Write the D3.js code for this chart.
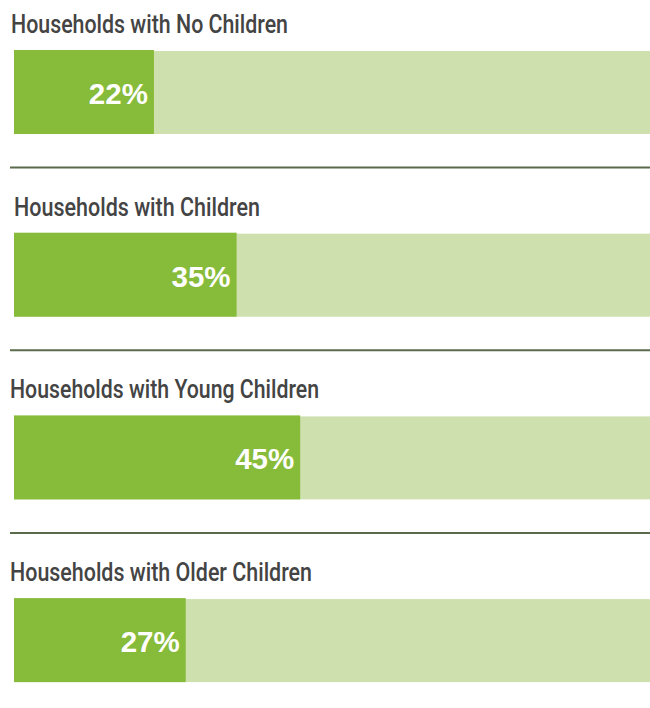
<!DOCTYPE html>
<html>
<head>
<meta charset="utf-8">
<script src="https://cdn.jsdelivr.net/npm/d3@7"></script>
<style>
  html, body { margin: 0; padding: 0; background: #ffffff; }
  svg { display: block; }
</style>
</head>
<body>
<div id="chart"></div>
<script>
// Share of households by group
const categories = [
  "Households with No Children",
  "Households with Children",
  "Households with Young Children",
  "Households with Older Children"
];
const values = [22, 35, 45, 27];
const valueLabels = ["22%", "35%", "45%", "27%"];

const width = 650, height = 708;
const panelStep = 182.7;
const barLeft = 14, barRight = 650;
const barTopOffset = 50, barHeight = 84;

// title placement (left edge and set width for the condensed look)
const titleXs = [11, 14, 10, 10];
const titleWidths = [277, 246, 309, 302];

const svg = d3.select("#chart").append("svg")
  .attr("width", width)
  .attr("height", height);

const x = d3.scaleLinear().domain([0, 100]).range([barLeft, barRight]);
const panelY = d3.scaleLinear().domain([0, 1]).range([0, panelStep]);

const panels = svg.selectAll("g.panel")
  .data(categories.map((c, i) => ({ name: c, value: values[i], label: valueLabels[i], i })))
  .join("g")
  .attr("class", "panel")
  .attr("transform", d => `translate(0,${panelY(d.i)})`);

panels.append("text")
  .attr("x", d => titleXs[d.i])
  .attr("y", 33)
  .attr("fill", "#444444")
  .attr("textLength", d => titleWidths[d.i])
  .attr("lengthAdjust", "spacingAndGlyphs")
  .style("font-family", "Roboto, 'Liberation Sans', sans-serif")
  .style("font-weight", "500")
  .style("font-size", "25px")
  .text(d => d.name);

// full-width track
panels.append("rect")
  .attr("x", x(0))
  .attr("y", barTopOffset + 1)
  .attr("width", x(100) - x(0))
  .attr("height", barHeight - 1)
  .attr("fill", "#cde0ae");

// value bar
panels.append("rect")
  .attr("x", x(0))
  .attr("y", barTopOffset)
  .attr("width", d => x(d.value) - x(0))
  .attr("height", barHeight)
  .attr("fill", "#87bb3a");

panels.append("text")
  .attr("x", d => x(d.value) - 6)
  .attr("y", barTopOffset + 54)
  .attr("text-anchor", "end")
  .attr("fill", "#ffffff")
  .style("font-family", "'Liberation Sans', Arial, sans-serif")
  .style("font-weight", "bold")
  .style("font-size", "29.5px")
  .text(d => d.label);

// separators between panels
panels.filter(d => d.i < categories.length - 1)
  .append("line")
  .attr("x1", 10)
  .attr("x2", 650)
  .attr("y1", 167.5)
  .attr("y2", 167.5)
  .attr("stroke", "#5b6a4b")
  .attr("stroke-width", 2);
</script>
</body>
</html>
